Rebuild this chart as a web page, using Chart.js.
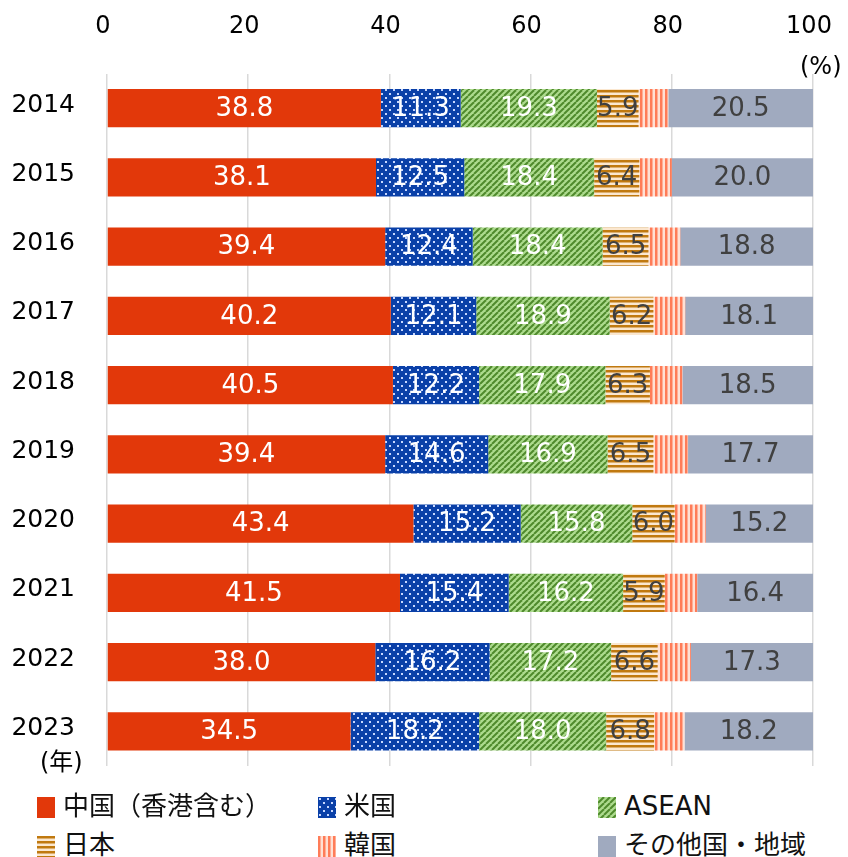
<!DOCTYPE html>
<html>
<head>
<meta charset="utf-8">
<script src="https://cdn.jsdelivr.net/npm/chart.js@4.4.1/dist/chart.umd.min.js"></script>
<style>
  body { margin: 0; background: #fff; width: 848px; height: 857px; overflow: hidden; position: relative; }
  #wrap { position: absolute; left: 0; top: 0; width: 848px; height: 766px; }
  .note { position: absolute; font: 24px "DejaVu Sans", "Noto Sans CJK JP", sans-serif; color: #000; line-height: 28px; }
  .item { position: absolute; height: 30px; font: 26px "DejaVu Sans", "Noto Sans CJK JP", sans-serif; color: #111; line-height: 30px; white-space: nowrap; }
  .item canvas { position: absolute; left: 0; top: 6px; }
  .item span { position: absolute; left: 26px; top: 0; }
</style>
</head>
<body>
<div id="wrap"><canvas id="c"></canvas></div>
<div class="note" style="left:800px; top:52px;">(%)</div>
<div class="note" style="left:40px; top:748px;">(年)</div>
<div id="legend"></div>
<script>
const years = ['2014', '2015', '2016', '2017', '2018', '2019', '2020', '2021', '2022', '2023'];
const china = [38.8, 38.1, 39.4, 40.2, 40.5, 39.4, 43.4, 41.5, 38.0, 34.5];
const usa = [11.3, 12.5, 12.4, 12.1, 12.2, 14.6, 15.2, 15.4, 16.2, 18.2];
const asean = [19.3, 18.4, 18.4, 18.9, 17.9, 16.9, 15.8, 16.2, 17.2, 18.0];
const japan = [5.9, 6.4, 6.5, 6.2, 6.3, 6.5, 6.0, 5.9, 6.6, 6.8];
const korea = [4.2, 4.6, 4.5, 4.5, 4.6, 4.9, 4.4, 4.6, 4.7, 4.3];
const others = [20.5, 20.0, 18.8, 18.1, 18.5, 17.7, 15.2, 16.4, 17.3, 18.2];
const xTicks = [0, 20, 40, 60, 80, 100];
const seriesNames = ['中国（香港含む）', '米国', 'ASEAN', '日本', '韓国', 'その他国・地域'];

// pattern tiles
function tile(w, h, draw) {
  const cv = document.createElement('canvas');
  cv.width = w; cv.height = h;
  const g = cv.getContext('2d');
  draw(g);
  return g.createPattern(cv, 'repeat');
}
const dots = tile(8, 8, g => {
  g.fillStyle = '#0a40a8'; g.fillRect(0, 0, 8, 8);
  g.fillStyle = '#c8d8ff';
  g.fillRect(1, 1, 2, 2);
  g.fillRect(5, 5, 2, 2);
});
const diag = tile(6, 6, g => {
  g.fillStyle = '#addb8e'; g.fillRect(0, 0, 6, 6);
  g.strokeStyle = '#4f8a2c'; g.lineWidth = 2;
  for (let k = -6; k <= 12; k += 6) {
    g.beginPath(); g.moveTo(k, 6); g.lineTo(k + 6, 0); g.stroke();
  }
});
const hlines = tile(6, 5, g => {
  g.fillStyle = '#fbe7cf'; g.fillRect(0, 0, 6, 5);
  g.fillStyle = '#c0790f'; g.fillRect(0, 0, 6, 2.5);
});
const vlines = tile(5, 6, g => {
  g.fillStyle = '#ffe0d4'; g.fillRect(0, 0, 5, 6);
  g.fillStyle = '#ff7c58'; g.fillRect(0, 0, 2.5, 6);
});
const fills = ['#e2380a', dots, diag, hlines, vlines, '#a0aabf'];
const labelColors = ['#fff', '#fff', '#fff', '#404040', null, '#404040'];

const barLabels = {
  id: 'barLabels',
  afterDatasetsDraw(chart) {
    const ctx = chart.ctx;
    ctx.save();
    ctx.font = '26px "DejaVu Sans"';
    ctx.textAlign = 'center';
    ctx.textBaseline = 'middle';
    chart.data.datasets.forEach((ds, i) => {
      if (!labelColors[i]) return;
      ctx.fillStyle = labelColors[i];
      chart.getDatasetMeta(i).data.forEach((bar, j) => {
        const cx = (bar.x + bar.base) / 2;
        ctx.fillText(ds.data[j].toFixed(1), cx, bar.y + 1);
      });
    });
    ctx.restore();
  }
};

const seriesData = [china, usa, asean, japan, korea, others];
new Chart(document.getElementById('c'), {
  type: 'bar',
  data: {
    labels: years,
    datasets: seriesData.map((d, i) => ({
      label: seriesNames[i],
      data: d,
      backgroundColor: fills[i],
      borderWidth: 0,
      barPercentage: 1,
      categoryPercentage: 0.55
    }))
  },
  options: {
    indexAxis: 'y',
    responsive: true,
    maintainAspectRatio: false,
    animation: false,
    devicePixelRatio: 1,
    layout: { padding: { left: 0, right: 35, top: 0, bottom: 0 } },
    plugins: { legend: { display: false }, tooltip: { enabled: false } },
    scales: {
      x: {
        position: 'top',
        stacked: true,
        min: 0, max: 100,
        afterBuildTicks: s => { s.ticks = xTicks.map(v => ({ value: v })); },
        afterFit: s => { s.height = 73.5; s.paddingLeft = 0; s.paddingRight = 0; },
        grid: { color: '#d9d9d9', lineWidth: 1.5, drawTicks: false },
        border: { display: false },
        ticks: { font: { family: 'DejaVu Sans', size: 24 }, color: '#000', padding: 32, labelOffset: -4 }
      },
      y: {
        stacked: true,
        afterFit: s => { s.width = 107; s.paddingTop = 0; s.paddingBottom = 0; },
        grid: { display: false },
        border: { display: false },
        ticks: { font: { family: 'DejaVu Sans', size: 25 }, color: '#000', padding: 24, labelOffset: -3 }
      }
    }
  },
  plugins: [barLabels]
});

// legend in three columns
const legendPos = [[37, 791], [318, 791], [598, 791], [37, 830], [318, 830], [598, 830]];
const legend = document.getElementById('legend');
seriesNames.forEach((name, i) => {
  const item = document.createElement('div');
  item.className = 'item';
  item.style.left = legendPos[i][0] + 'px';
  item.style.top = legendPos[i][1] + 'px';
  const sw = document.createElement('canvas');
  sw.width = 18; sw.height = 21;
  const g = sw.getContext('2d');
  g.fillStyle = fills[i]; g.fillRect(0, 0, 18, 21);
  const t = document.createElement('span');
  t.textContent = name;
  item.appendChild(sw); item.appendChild(t);
  legend.appendChild(item);
});
</script>
</body>
</html>
